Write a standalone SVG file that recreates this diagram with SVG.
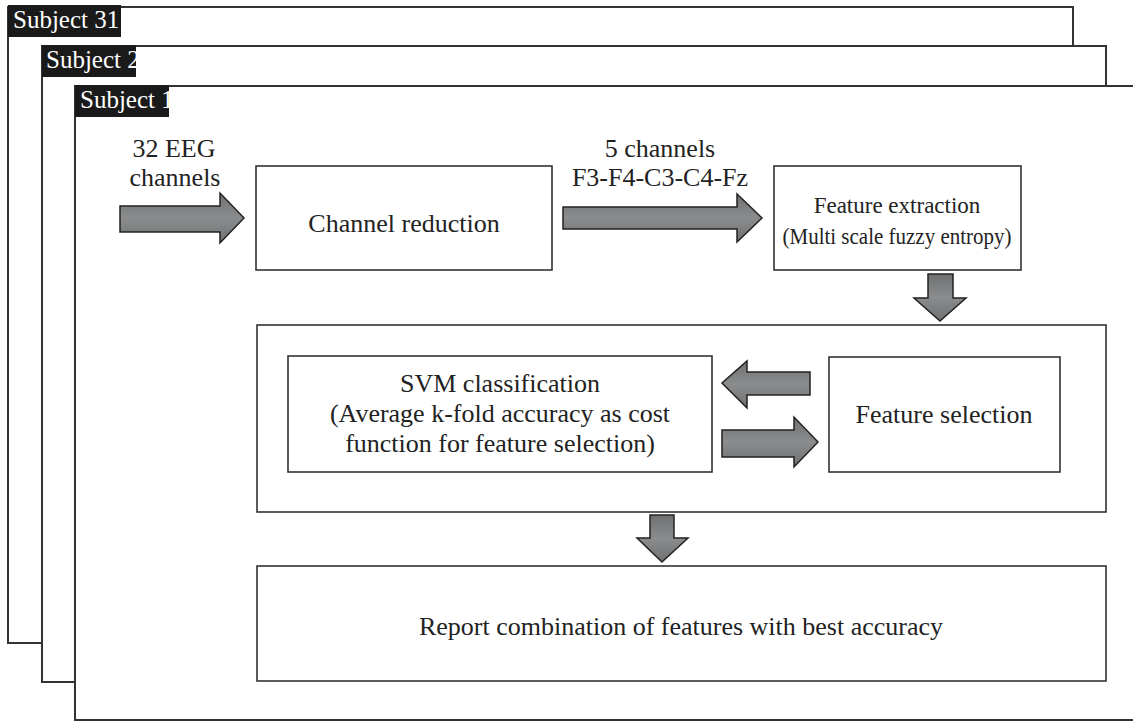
<svg xmlns="http://www.w3.org/2000/svg" width="1133" height="721" viewBox="0 0 1133 721">
<defs>
<style>
.frame{fill:#fff;stroke:#333;stroke-width:2}
.box{fill:#fff;stroke:#333;stroke-width:1.6}
.lab{fill:#1a1a1a}
.labt{fill:#fff;font-family:"Liberation Serif",serif;font-size:25px}
.t{fill:#222;font-family:"Liberation Serif",serif;font-size:26px;text-anchor:middle}
.s{font-size:23px}
.arr{fill:url(#g);stroke:#222;stroke-width:1.5;stroke-linejoin:miter}
</style>
<linearGradient id="g" x1="0" y1="0" x2="0" y2="1">
<stop offset="0" stop-color="#6e7071"/>
<stop offset="0.5" stop-color="#8a8c8d"/>
<stop offset="1" stop-color="#6e7071"/>
</linearGradient>
<clipPath id="c31"><rect x="8" y="5" width="113" height="32"/></clipPath>
<clipPath id="c2"><rect x="42" y="45" width="94" height="32"/></clipPath>
<clipPath id="c1"><rect x="75" y="85" width="94" height="32"/></clipPath>
</defs>
<g id="frame31">
<rect class="frame" x="8" y="7" width="1065" height="636"/>
<rect class="lab" x="8" y="5" width="113" height="32"/>
<text class="labt" x="13" y="28" clip-path="url(#c31)">Subject 31</text>
</g>
<g id="frame2">
<rect class="frame" x="42" y="46" width="1064" height="636"/>
<rect class="lab" x="42" y="45" width="94" height="32"/>
<text class="labt" x="46" y="68" clip-path="url(#c2)">Subject 2</text>
</g>
<g id="frame1">
<rect class="frame" x="75" y="86" width="1080" height="634"/>
<rect class="lab" x="75" y="85" width="94" height="32"/>
<text class="labt" x="80" y="108" clip-path="url(#c1)">Subject 1</text>
</g>
<g id="input-label">
<text class="t" x="174" y="157">32 EEG</text>
<text class="t" x="175" y="186">channels</text>
</g>
<g id="channels-label">
<text class="t" x="660" y="157">5 channels</text>
<text class="t" x="660" y="186">F3-F4-C3-C4-Fz</text>
</g>
<g id="channel-reduction">
<rect class="box" x="256" y="166" width="296" height="104"/>
<text class="t" x="404" y="232">Channel reduction</text>
</g>
<g id="feature-extraction">
<rect class="box" x="774" y="166" width="247" height="104"/>
<text class="t s" x="897" y="213">Feature extraction</text>
<text class="t s" x="897" y="244" textLength="229" lengthAdjust="spacingAndGlyphs">(Multi scale fuzzy entropy)</text>
</g>
<g id="selection-loop">
<rect class="box" x="257" y="325" width="849" height="187"/>
</g>
<g id="svm">
<rect class="box" x="288" y="356" width="424" height="116"/>
<text class="t" x="500" y="392">SVM classification</text>
<text class="t" x="500" y="422">(Average k-fold accuracy as cost</text>
<text class="t" x="500" y="452">function for feature selection)</text>
</g>
<g id="feature-selection">
<rect class="box" x="829" y="357" width="231" height="115"/>
<text class="t" x="944" y="423">Feature selection</text>
</g>
<g id="report">
<rect class="box" x="257" y="566" width="849" height="115"/>
<text class="t" x="681" y="635">Report combination of features with best accuracy</text>
</g>
<g id="connectors">
<polygon class="arr" points="120,206 220,206 220,193 244,218 220,243 220,232 120,232"/>
<polygon class="arr" points="563,207 737,207 737,194 762,218 737,242 737,229 563,229"/>
<polygon class="arr" points="928,274 953,274 953,298 966,298 940,321 914,298 928,298"/>
<polygon class="arr" points="810,372 747,372 747,361 722,383 747,408 747,395 810,395"/>
<polygon class="arr" points="722,430 794,430 794,417 818,442 794,467 794,457 722,457"/>
<polygon class="arr" points="650,515 674,515 674,538 688,538 662,562 637,538 650,538"/>
</g>
</svg>
